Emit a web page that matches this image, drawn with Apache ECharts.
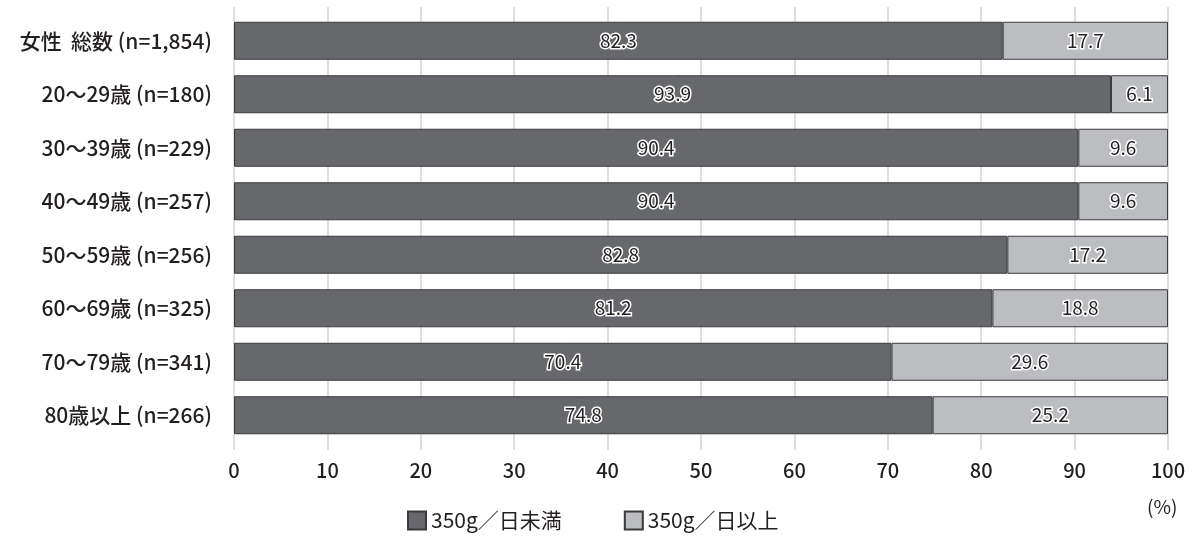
<!DOCTYPE html>
<html><head><meta charset="utf-8">
<script src="https://cdn.jsdelivr.net/npm/echarts@6/dist/echarts.min.js"></script>
<style>html,body{margin:0;padding:0;background:#fff}#c{width:1199px;height:538px}</style>
</head><body><div id="c"></div>
<script>
const categories = ['女性  総数 (n=1,854)','20～29歳 (n=180)','30～39歳 (n=229)','40～49歳 (n=257)','50～59歳 (n=256)','60～69歳 (n=325)','70～79歳 (n=341)','80歳以上 (n=266)'];
const under350 = [82.3, 93.9, 90.4, 90.4, 82.8, 81.2, 70.4, 74.8];
const over350 = [17.7, 6.1, 9.6, 9.6, 17.2, 18.8, 29.6, 25.2];
const seriesNames = ['350g／日未満', '350g／日以上'];
const xTicks = [0,10,20,30,40,50,60,70,80,90,100];

const font = '"Noto Sans CJK JP", "Noto Sans", sans-serif';
const chart = echarts.init(document.getElementById('c'), null, {renderer:'canvas'});
const labelStyle = {show:true, position:'inside', color:'#231f20', fontSize:19, fontFamily:font,
  textBorderColor:'#fff', textBorderWidth:3, formatter: p => p.value.toFixed(1)};
chart.setOption({
  animation:false,
  grid:{left:234, right:31, top:14, height:428},
  legend:{bottom:2, left:402, icon:'rect', itemWidth:18, itemHeight:18, itemGap:62,
    textStyle:{fontSize:21, fontFamily:font, color:'#231f20'},
    data:seriesNames},
  xAxis:[{type:'value', min:0, max:100, interval:10,
    axisLine:{show:false}, axisTick:{show:true, length:8, lineStyle:{color:'#d4d4d4', width:1.5}},
    splitLine:{show:true, lineStyle:{color:'#d4d4d4', width:1.5}},
    axisLabel:{fontSize:20, fontFamily:font, color:'#231f20', margin:18, fontWeight:500,
      formatter: v => xTicks.includes(v) ? String(v) : ''}},
    {type:'value', position:'top', min:0, max:100, interval:10,
    axisLine:{show:false}, axisTick:{show:true, length:7, lineStyle:{color:'#d4d4d4', width:1.5}},
    splitLine:{show:false}, axisLabel:{show:false}}],
  yAxis:{type:'category', data:categories, inverse:true,
    axisLine:{show:false}, axisTick:{show:false},
    axisLabel:{fontSize:21, fontFamily:font, color:'#231f20', margin:22, fontWeight:500}},
  graphic:[{type:'text', left:1147, top:497, style:{text:'(%)', fontSize:19, fontFamily:font, fill:'#231f20'}}],
  series:[
    {name:seriesNames[0], type:'bar', stack:'a', data:under350, barWidth:38,
      itemStyle:{color:'#67686b', borderColor:'#3a3a3c', borderWidth:1}, label:labelStyle},
    {name:seriesNames[1], type:'bar', stack:'a', data:over350, barWidth:38,
      itemStyle:{color:'#bcbdc0', borderColor:'#3a3a3c', borderWidth:1}, label:labelStyle}
  ]
});
</script></body></html>
